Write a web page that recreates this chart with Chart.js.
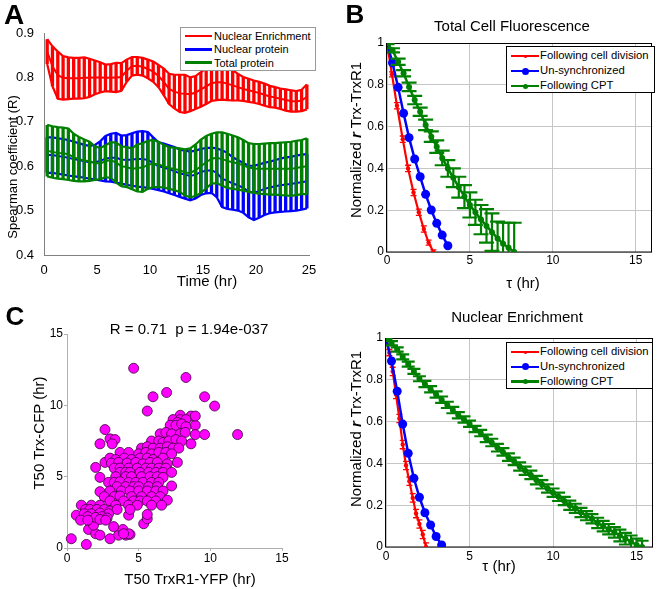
<!DOCTYPE html>
<html>
<head>
<meta charset="utf-8">
<title>Trx / TrxR1 correlation figure</title>
<script src="https://cdn.jsdelivr.net/npm/chart.js@4.4.1/dist/chart.umd.min.js"></script>
<style>
  body { margin: 0; background: #fff; }
  #fig { position: relative; width: 662px; height: 589px; overflow: hidden;
         font-family: Arial, "Liberation Sans", Helvetica, sans-serif; color: #000; }
  #fig canvas { position: absolute; }
  .t { position: absolute; white-space: nowrap; line-height: 1; transform: translate(-50%, -50%); }
  .t.rot { transform: translate(-50%, -50%) rotate(-90deg); }
  .letter { font-weight: bold; }
  .legend { position: absolute; box-sizing: border-box; background: #fff; border: 1px solid #000; }
  .lrow { position: absolute; left: 0; height: 0; }
  .lline { position: absolute; left: 4px; top: -1.25px; height: 2.5px; }
  .ldot { position: absolute; border-radius: 50%; }
  .ltext { position: absolute; top: 0; line-height: 1; transform: translateY(-50%); white-space: nowrap; }
</style>
</head>
<body>
<div id="fig">
  <canvas id="chartA" width="330" height="292" style="left:0;top:0"></canvas>
  <canvas id="chartB" width="332" height="292" style="left:330px;top:0"></canvas>
  <canvas id="chartC" width="330" height="297" style="left:0;top:292px"></canvas>
  <canvas id="chartD" width="332" height="297" style="left:330px;top:292px"></canvas>

  <div class="t letter" style="left:14px;top:15px;font-size:28px">A</div>
  <div class="t letter" style="left:355px;top:14px;font-size:26px">B</div>
  <div class="t letter" style="left:15px;top:316px;font-size:26px">C</div>

  <div class="t" style="left:207px;top:280px;font-size:15px">Time (hr)</div>
  <div class="t rot" style="left:12px;top:167px;font-size:13px">Spearman coefficient (R)</div>

  <div class="t" style="left:512px;top:25px;font-size:15px">Total Cell Fluorescence</div>
  <div class="t" style="left:523px;top:282px;font-size:15px">τ (hr)</div>
  <div class="t rot" style="left:355px;top:140px;font-size:15px">Normalized <b><i>r</i></b> Trx-TrxR1</div>

  <div class="t" style="left:189px;top:328px;font-size:15px">R = 0.71&nbsp; p = 1.94e-037</div>
  <div class="t" style="left:190px;top:578px;font-size:15px">T50 TrxR1-YFP (hr)</div>
  <div class="t rot" style="left:38px;top:433px;font-size:15px">T50 Trx-CFP (hr)</div>

  <div class="t" style="left:517px;top:316px;font-size:15px">Nuclear Enrichment</div>
  <div class="t" style="left:499px;top:565px;font-size:15px">τ (hr)</div>
  <div class="t rot" style="left:355px;top:429px;font-size:15px">Normalized <b><i>r</i></b> Trx-TrxR1</div>
</div>

<script>
// ---------- Panel A: Spearman coefficient vs time ----------
const timeA = [0.3, 0.8, 1.3, 1.8, 2.3, 2.8, 3.3, 3.8, 4.3, 4.8, 5.3, 5.8, 6.3, 6.8, 7.3, 7.8, 8.3, 8.8, 9.3, 9.8,
  10.3, 10.8, 11.3, 11.8, 12.3, 12.8, 13.3, 13.8, 14.3, 14.8, 15.3, 15.8, 16.3, 16.8, 17.3, 17.8, 18.3, 18.8, 19.3, 19.8,
  20.3, 20.8, 21.3, 21.8, 22.3, 22.8, 23.3, 23.8, 24.3, 24.8];

const nucEnrMean = [0.858, 0.825, 0.805, 0.799, 0.798, 0.798, 0.798, 0.799, 0.799, 0.800, 0.800, 0.799, 0.799, 0.800, 0.801,
  0.815, 0.825, 0.826, 0.824, 0.819, 0.813, 0.803, 0.790, 0.774, 0.768, 0.764, 0.763, 0.762, 0.766, 0.773, 0.780, 0.787,
  0.789, 0.789, 0.786, 0.782, 0.778, 0.774, 0.771, 0.768, 0.765, 0.761, 0.757, 0.755, 0.752, 0.749, 0.747, 0.746, 0.748, 0.756];
const nucEnrErr = [0.028, 0.045, 0.053, 0.049, 0.047, 0.046, 0.046, 0.046, 0.043, 0.038, 0.034, 0.030, 0.031, 0.033, 0.031,
  0.025, 0.021, 0.020, 0.020, 0.021, 0.023, 0.025, 0.030, 0.034, 0.038, 0.042, 0.043, 0.038, 0.037, 0.039, 0.040, 0.040,
  0.040, 0.039, 0.037, 0.034, 0.030, 0.027, 0.026, 0.025, 0.025, 0.025, 0.024, 0.023, 0.023, 0.024, 0.024, 0.023, 0.024, 0.028];

const nucProtMean = [0.625, 0.625, 0.623, 0.621, 0.619, 0.616, 0.614, 0.611, 0.609, 0.609, 0.612, 0.617, 0.619, 0.619, 0.615,
  0.614, 0.615, 0.616, 0.616, 0.614, 0.607, 0.600, 0.597, 0.593, 0.589, 0.584, 0.581, 0.578, 0.581, 0.587, 0.590, 0.591,
  0.585, 0.572, 0.567, 0.561, 0.557, 0.551, 0.543, 0.540, 0.544, 0.549, 0.552, 0.555, 0.557, 0.559, 0.560, 0.562, 0.564, 0.566];
const nucProtErr = [0.040, 0.040, 0.040, 0.040, 0.040, 0.039, 0.038, 0.037, 0.037, 0.039, 0.044, 0.051, 0.054, 0.056, 0.054,
  0.056, 0.059, 0.062, 0.063, 0.063, 0.058, 0.054, 0.054, 0.054, 0.054, 0.053, 0.054, 0.055, 0.054, 0.052, 0.051, 0.051,
  0.055, 0.064, 0.063, 0.059, 0.057, 0.056, 0.058, 0.061, 0.060, 0.059, 0.058, 0.059, 0.060, 0.061, 0.061, 0.062, 0.062, 0.061];

const totProtMean = [0.635, 0.632, 0.630, 0.629, 0.627, 0.620, 0.616, 0.613, 0.611, 0.607, 0.606, 0.611, 0.614, 0.608, 0.600,
  0.598, 0.594, 0.596, 0.597, 0.603, 0.606, 0.604, 0.600, 0.596, 0.594, 0.591, 0.586, 0.585, 0.591, 0.600, 0.609, 0.617,
  0.619, 0.616, 0.612, 0.609, 0.606, 0.602, 0.597, 0.595, 0.594, 0.594, 0.594, 0.594, 0.594, 0.594, 0.594, 0.596, 0.598, 0.600];
const totProtErr = [0.058, 0.058, 0.058, 0.058, 0.058, 0.053, 0.050, 0.047, 0.044, 0.038, 0.035, 0.036, 0.040, 0.045, 0.045,
  0.045, 0.046, 0.053, 0.055, 0.054, 0.053, 0.051, 0.048, 0.047, 0.048, 0.049, 0.052, 0.055, 0.058, 0.060, 0.059, 0.056,
  0.057, 0.060, 0.061, 0.060, 0.059, 0.057, 0.055, 0.055, 0.056, 0.057, 0.058, 0.058, 0.059, 0.060, 0.061, 0.061, 0.061, 0.063];

const xTicksA = [0, 5, 10, 15, 20, 25];
const yTicksA = [0.4, 0.5, 0.6, 0.7, 0.8, 0.9];

// ---------- Panel B: total cell fluorescence ----------
const tauDivB = [0, 0.3, 0.6, 0.95, 1.27, 1.6, 1.92, 2.22, 2.51, 2.8];
const divB = [1.0, 0.85, 0.70, 0.54, 0.40, 0.285, 0.19, 0.11, 0.045, 0.0];
const divErrB = [0, 0.012, 0.015, 0.015, 0.015, 0.015, 0.015, 0.015, 0.012, 0.01];

const tauUnsB = [0, 0.33, 0.67, 1, 1.33, 1.67, 2, 2.33, 2.67, 3, 3.33, 3.67];
const unsB = [1.0, 0.905, 0.788, 0.664, 0.547, 0.445, 0.36, 0.276, 0.201, 0.137, 0.081, 0.03];

const tauCptB = [0, 0.33, 0.67, 1, 1.33, 1.67, 2, 2.33, 2.67, 3, 3.33, 3.67, 4, 4.33, 4.67, 5, 5.33, 5.67, 6, 6.33, 6.67, 7, 7.33, 7.67];
const cptB = [1.0, 0.965, 0.91, 0.855, 0.79, 0.727, 0.671, 0.608, 0.552, 0.504, 0.45, 0.40, 0.355, 0.31, 0.265, 0.225,
  0.19, 0.155, 0.125, 0.095, 0.065, 0.04, 0.02, 0.0];
const cptErrB = [0.005, 0.01, 0.015, 0.015, 0.02, 0.02, 0.02, 0.025, 0.025, 0.03, 0.035, 0.04, 0.045, 0.05, 0.055, 0.06,
  0.06, 0.07, 0.08, 0.09, 0.08, 0.10, 0.12, 0.14];

// ---------- Panel D: nuclear enrichment ----------
const tauDivD = [0, 0.2, 0.4, 0.6, 0.8, 1.0, 1.2, 1.4, 1.6, 1.8, 2.0, 2.2, 2.4];
const divD = [1.0, 0.93, 0.84, 0.73, 0.615, 0.49, 0.39, 0.315, 0.235, 0.16, 0.11, 0.06, 0.0];
const divErrD = [0, 0.015, 0.02, 0.02, 0.02, 0.02, 0.02, 0.02, 0.02, 0.02, 0.02, 0.02, 0.02];

const tauUnsD = [0, 0.33, 0.67, 1, 1.33, 1.67, 2, 2.33, 2.67, 3, 3.33];
const unsD = [1.0, 0.89, 0.745, 0.588, 0.448, 0.329, 0.238, 0.164, 0.105, 0.05, 0.01];

const tauCptD = [0, 0.33, 0.67, 1, 1.33, 1.67, 2, 2.33, 2.67, 3, 3.33, 3.67, 4, 4.33, 4.67, 5, 5.33, 5.67, 6, 6.33, 6.67,
  7, 7.33, 7.67, 8, 8.33, 8.67, 9, 9.33, 9.67, 10, 10.33, 10.67, 11, 11.33, 11.67, 12, 12.33, 12.67, 13, 13.33, 13.67,
  14, 14.33, 14.67, 15, 15.33];
const cptD = [1.0, 0.975, 0.945, 0.91, 0.875, 0.84, 0.805, 0.78, 0.755, 0.73, 0.705, 0.68, 0.655, 0.63, 0.61, 0.59, 0.565,
  0.545, 0.52, 0.50, 0.475, 0.455, 0.43, 0.41, 0.385, 0.365, 0.345, 0.32, 0.30, 0.28, 0.26, 0.24, 0.22, 0.20, 0.185, 0.165,
  0.15, 0.135, 0.115, 0.10, 0.085, 0.07, 0.055, 0.04, 0.025, 0.01, 0.0];
const cptErrD = [0.005, 0.01, 0.01, 0.012, 0.012, 0.012, 0.012, 0.015, 0.015, 0.015, 0.015, 0.015, 0.015, 0.015, 0.015,
  0.015, 0.015, 0.015, 0.018, 0.018, 0.018, 0.018, 0.018, 0.018, 0.02, 0.02, 0.02, 0.02, 0.02, 0.02, 0.02, 0.02, 0.02,
  0.022, 0.022, 0.022, 0.022, 0.022, 0.025, 0.025, 0.025, 0.025, 0.028, 0.028, 0.03, 0.03, 0.03];

const xTicksBD = [0, 5, 10, 15];
const yTicksBD = [0, 0.2, 0.4, 0.6, 0.8, 1];

// ---------- Panel C: T50 scatter ----------
const t50Yfp = [4.65, 8.3, 6.95, 6.0, 5.6, 9.6, 10.3, 11.9, 8.95, 8.95, 9.6, 8.65, 8.95, 8.65, 7.9, 0.3, 1.35, 3.0, 2.65, 2.3,
  3.0, 3.35, 3.15, 2.0, 2.3, 2.3, 1.0, 0.65, 1.5, 2.0, 2.3, 3.6, 4.1, 4.4, 3.9, 3.25, 2.65, 1.85, 5.35, 5.6, 5.6, 7.3, 4.3, 2.65,
  7.4, 7.9, 8.3, 7.7, 7.2, 7.6, 8.0, 8.3, 6.5, 6.9, 7.3, 7.9, 8.25, 5.9, 6.4, 6.7, 7.1, 7.6, 8.0,
  5.2, 5.6, 6.0, 6.5, 7.0, 7.4, 7.8, 3.7, 4.3, 5.0, 5.5, 5.9, 6.4, 6.9, 7.3,
  3.0, 3.4, 4.0, 4.5, 5.1, 5.6, 6.0, 6.7, 7.7, 3.1, 3.6, 4.2, 4.8, 5.3, 5.8, 6.3, 7.0,
  3.3, 3.7, 4.3, 4.9, 5.5, 5.9, 6.4, 6.9, 3.7, 4.1, 4.4, 5.1, 5.7, 6.2, 6.7, 7.3,
  3.4, 4.1, 4.5, 5.2, 5.8, 6.3, 6.7, 2.9, 3.3, 3.7, 4.3, 4.8, 5.3, 5.9, 6.4,
  3.5, 4.1, 4.65, 5.0, 5.7, 6.3, 3.0, 3.8, 4.4, 5.0, 5.6, 6.2, 6.7,
  2.6, 3.3, 3.7, 4.5, 5.2, 5.9, 6.5, 3.0, 3.95, 4.65, 5.1, 5.6, 6.2, 7.0,
  1.7, 2.3, 3.4, 4.3, 4.9, 5.9, 6.6, 1.3, 1.6, 2.1, 2.6, 3.0, 3.5, 4.4,
  1.2, 1.7, 2.3, 2.9, 1.45, 2.0, 2.45, 2.8, 0.95, 1.45, 2.3, 2.7, 4.3, 3.95];
const t50Cfp = [12.6, 11.95, 10.9, 10.6, 9.6, 10.6, 9.95, 7.95, 8.6, 7.95, 7.95, 9.25, 9.25, 7.3, 9.3, 0.65, 0.25, 0.65, 8.3, 7.3,
  7.65, 7.6, 7.3, 5.65, 4.95, 3.95, 3.0, 2.3, 1.3, 1.0, 0.9, 0.9, 0.9, 0.95, 1.3, 1.5, 2.3, 1.6, 1.7, 2.05, 2.35, 4.35, 2.3, 6.0,
  9.0, 9.0, 9.0, 8.8, 8.6, 8.6, 8.7, 8.5, 8.0, 8.1, 8.0, 8.0, 8.1, 7.5, 7.5, 7.4, 7.5, 7.6, 7.5,
  7.0, 7.1, 7.0, 7.0, 7.1, 7.0, 7.0, 6.7, 6.7, 6.6, 6.7, 6.6, 6.7, 6.7, 6.6,
  6.3, 6.2, 6.3, 6.2, 6.3, 6.3, 6.2, 6.3, 6.0, 5.95, 6.0, 5.95, 6.0, 5.9, 6.0, 6.0, 5.9,
  5.6, 5.6, 5.6, 5.6, 5.6, 5.6, 5.6, 5.6, 5.3, 5.3, 5.3, 5.3, 5.3, 5.3, 5.3, 5.3,
  5.0, 5.0, 5.0, 5.0, 5.0, 5.0, 4.95, 4.6, 4.6, 4.65, 4.6, 4.6, 4.6, 4.6, 4.6,
  4.3, 4.3, 4.3, 4.3, 4.3, 4.3, 4.0, 4.0, 4.0, 4.0, 4.0, 4.0, 4.0,
  3.6, 3.6, 3.65, 3.6, 3.6, 3.6, 3.6, 3.3, 3.3, 3.3, 3.3, 3.3, 3.3, 3.35,
  3.0, 3.0, 3.0, 3.0, 3.0, 3.0, 3.0, 2.7, 2.7, 2.7, 2.7, 2.6, 2.7, 2.7,
  2.4, 2.4, 2.45, 2.4, 2.2, 2.15, 2.2, 2.1, 1.95, 1.95, 2.0, 1.95, 1.0, 1.0];
const ticksC = [0, 5, 10, 15];

const RED = '#ff0000';
const BLUE = '#0000ff';
const GREEN = '#008000';

Chart.defaults.font.family = 'Arial, "Liberation Sans", Helvetica, sans-serif';
Chart.defaults.font.size = 12;
Chart.defaults.color = '#000';
Chart.defaults.animation = false;
Chart.defaults.responsive = false;
Chart.defaults.devicePixelRatio = 1;
Chart.defaults.events = [];
Chart.defaults.plugins.legend.display = false;
Chart.defaults.plugins.tooltip.enabled = false;

// helpers
function xy(xs, ys) {
  return xs.map((x, i) => ({ x: x, y: ys[i] }));
}
function shifted(xs, ys, es, sign) {
  return xs.map((x, i) => ({ x: x, y: ys[i] + sign * es[i] }));
}
// vertical error bar stems, one line dataset broken by nulls
function stemData(xs, ys, es) {
  const out = [];
  xs.forEach((x, i) => {
    out.push({ x: x, y: ys[i] - es[i] }, { x: x, y: ys[i] + es[i] }, { x: x, y: null });
  });
  return out;
}
function fixedTicks(values) {
  return function (scale) { scale.ticks = values.map((v) => ({ value: v })); };
}
function fixedWidth(w) {
  return function (scale) { scale.width = w; };
}
function fixedHeight(h) {
  return function (scale) { scale.height = h; };
}
const tickText = (v) => String(+v.toFixed(2));

// MATLAB style box around the plot area
const framePlugin = {
  id: 'frame',
  beforeDatasetsDraw(chart) {
    const a = chart.chartArea;
    const ctx = chart.ctx;
    ctx.save();
    ctx.strokeStyle = '#000';
    ctx.lineWidth = 1;
    ctx.strokeRect(Math.round(a.left) - 0.5, Math.round(a.top) + 0.5,
      Math.round(a.right - a.left), Math.round(a.bottom - a.top) - 0.5);
    ctx.restore();
  },
};

// ----- Panel A: band of error bars per series -----
function bandSeries(label, xs, m, e, color, order) {
  return [
    { label: label, data: xy(xs, m), borderColor: color, borderWidth: 2, order: order },
    { data: stemData(xs, m, e), borderColor: color, borderWidth: 3.3, borderCapStyle: 'butt', spanGaps: false, order: order },
    { data: shifted(xs, m, e, 1), borderColor: color, borderWidth: 2.2, order: order },
    { data: shifted(xs, m, e, -1), borderColor: color, borderWidth: 2.2, order: order },
  ];
}

new Chart(document.getElementById('chartA'), {
  type: 'line',
  data: {
    datasets: [
      ...bandSeries('Total protein', timeA, totProtMean, totProtErr, GREEN, 1),
      ...bandSeries('Nuclear protein', timeA, nucProtMean, nucProtErr, BLUE, 2),
      ...bandSeries('Nuclear Enrichment', timeA, nucEnrMean, nucEnrErr, RED, 3),
    ],
  },
  options: {
    layout: { padding: { left: 0, top: 33, right: 21, bottom: 0 } },
    elements: { point: { radius: 0 }, line: { tension: 0 } },
    scales: {
      x: {
        type: 'linear', min: 0, max: 25, offset: false,
        afterBuildTicks: fixedTicks(xTicksA), afterFit: fixedHeight(37),
        grid: { display: false }, border: { color: '#808080' },
        ticks: { padding: 0, maxRotation: 0, font: { size: 13 }, callback: tickText },
      },
      y: {
        type: 'linear', min: 0.4, max: 0.9,
        afterBuildTicks: fixedTicks(yTicksA), afterFit: fixedWidth(44),
        grid: { display: false }, border: { color: '#808080' },
        ticks: { padding: 2, font: { size: 13 }, callback: (v) => v.toFixed(1) },
      },
    },
  },
});

// ----- Panels B and D: decay curves with error bars -----
function markerLine(label, xs, ys, color, width, radius, order) {
  return {
    label: label, data: xy(xs, ys), borderColor: color, borderWidth: width,
    pointRadius: radius, pointBackgroundColor: color, pointBorderColor: color, pointBorderWidth: 0, order: order,
  };
}
function errorBars(xs, ys, es, color, stemW, capR, order) {
  const cap = (sign) => ({
    data: shifted(xs, ys, es, sign), showLine: false, pointStyle: 'line', pointRadius: capR,
    pointBorderWidth: stemW, pointBorderColor: color, clip: 0, order: order,
  });
  return [
    { data: stemData(xs, ys, es), borderColor: color, borderWidth: stemW, spanGaps: false, order: order },
    cap(1),
    cap(-1),
  ];
}
function decayOptions(pad, yWidth, xHeight, xPad) {
  return {
    layout: { padding: pad },
    elements: { point: { radius: 0 }, line: { tension: 0 } },
    scales: {
      x: {
        type: 'linear', min: 0, max: 16, offset: false,
        afterBuildTicks: fixedTicks(xTicksBD), afterFit: fixedHeight(xHeight),
        grid: { color: '#c6c6c6', drawTicks: false }, border: { display: false },
        ticks: { padding: xPad, maxRotation: 0, callback: tickText },
      },
      y: {
        type: 'linear', min: 0, max: 1,
        afterBuildTicks: fixedTicks(yTicksBD), afterFit: fixedWidth(yWidth),
        grid: { color: '#c6c6c6', drawTicks: false }, border: { display: false },
        ticks: { padding: 3, callback: tickText },
      },
    },
  };
}

new Chart(document.getElementById('chartB'), {
  type: 'line',
  data: {
    datasets: [
      markerLine('Following CPT', tauCptB, cptB, GREEN, 2.5, 3, 1),
      ...errorBars(tauCptB, cptB, cptErrB, GREEN, 2.2, 7.5, 1),
      markerLine('Un-synchronized', tauUnsB, unsB, BLUE, 2.5, 4.5, 2),
      markerLine('Following cell division', tauDivB, divB, RED, 2.2, 2.2, 3),
      ...errorBars(tauDivB, divB, divErrB, RED, 1.3, 3, 3),
    ],
  },
  options: decayOptions({ left: 0, top: 43, right: 4, bottom: 0 }, 57, 40, 1),
  plugins: [framePlugin],
});

new Chart(document.getElementById('chartD'), {
  type: 'line',
  data: {
    datasets: [
      markerLine('Following CPT', tauCptD, cptD, GREEN, 2.5, 3, 1),
      ...errorBars(tauCptD, cptD, cptErrD, GREEN, 2.2, 6.5, 1),
      markerLine('Un-synchronized', tauUnsD, unsD, BLUE, 2.5, 4.5, 2),
      markerLine('Following cell division', tauDivD, divD, RED, 2.2, 2.2, 3),
      ...errorBars(tauDivD, divD, divErrD, RED, 1.3, 3, 3),
    ],
  },
  options: decayOptions({ left: 0, top: 46, right: 4, bottom: 0 }, 56, 42, 2.5),
  plugins: [framePlugin],
});

// ----- Panel C: scatter of T50 values -----
new Chart(document.getElementById('chartC'), {
  type: 'scatter',
  data: {
    datasets: [{
      label: 'T50',
      data: xy(t50Yfp, t50Cfp),
      pointRadius: 5,
      backgroundColor: '#ff00ff',
      borderColor: '#3d003d',
      borderWidth: 0.8,
      clip: false,
    }],
  },
  options: {
    layout: { padding: { left: 0, top: 42, right: 48, bottom: 0 } },
    scales: {
      x: {
        type: 'linear', min: 0, max: 15,
        afterBuildTicks: fixedTicks(ticksC), afterFit: fixedHeight(41),
        grid: { display: true, drawOnChartArea: false, tickLength: 3, color: '#b0b0b0' },
        border: { color: '#b0b0b0' },
        ticks: { padding: 0, maxRotation: 0, callback: tickText },
      },
      y: {
        type: 'linear', min: 0, max: 15,
        afterBuildTicks: fixedTicks(ticksC), afterFit: fixedWidth(67),
        grid: { display: true, drawOnChartArea: false, tickLength: 3, color: '#b0b0b0' },
        border: { color: '#b0b0b0' },
        ticks: { padding: 1, callback: tickText },
      },
    },
  },
});

// ----- legends (MATLAB style boxes inside the axes) -----
function addLegend(box, items) {
  const el = document.createElement('div');
  el.className = 'legend';
  Object.assign(el.style, {
    left: box.left + 'px', top: box.top + 'px', width: box.width + 'px', height: box.height + 'px',
    borderColor: box.border,
  });
  items.forEach((it, i) => {
    const row = document.createElement('div');
    row.className = 'lrow';
    row.style.top = (box.firstRow + i * box.rowGap) + 'px';
    let html = '<span class="lline" style="background:' + it.color + ';width:' + box.lineLen + 'px"></span>';
    if (it.dot) {
      const c = 4 + box.lineLen / 2;
      html += '<span class="ldot" style="background:' + it.color + ';width:' + 2 * it.dot + 'px;height:' + 2 * it.dot +
        'px;left:' + (c - it.dot) + 'px;top:' + (-it.dot) + 'px"></span>';
    }
    html += '<span class="ltext" style="left:' + box.textLeft + 'px;font-size:' + box.fontSize + 'px">' + it.label + '</span>';
    row.innerHTML = html;
    el.appendChild(row);
  });
  document.getElementById('fig').appendChild(el);
}

const legendA = ['Nuclear Enrichment', 'Nuclear protein', 'Total protein'];
const legendBD = ['Following cell division', 'Un-synchronized', 'Following CPT'];

addLegend({ left: 180, top: 27, width: 136, height: 44, border: '#999', firstRow: 8, rowGap: 13.3,
  lineLen: 27, textLeft: 33, fontSize: 11 },
  [{ label: legendA[0], color: RED }, { label: legendA[1], color: BLUE }, { label: legendA[2], color: GREEN }]);

addLegend({ left: 506, top: 46, width: 149, height: 47, border: '#000', firstRow: 9, rowGap: 15,
  lineLen: 28, textLeft: 33, fontSize: 11.3 },
  [{ label: legendBD[0], color: RED, dot: 1.5 }, { label: legendBD[1], color: BLUE, dot: 3.5 },
    { label: legendBD[2], color: GREEN, dot: 2.5 }]);

addLegend({ left: 506, top: 342, width: 147, height: 47, border: '#000', firstRow: 9, rowGap: 14.8,
  lineLen: 28, textLeft: 33, fontSize: 11.3 },
  [{ label: legendBD[0], color: RED, dot: 1.5 }, { label: legendBD[1], color: BLUE, dot: 3.5 },
    { label: legendBD[2], color: GREEN, dot: 2.5 }]);
</script>
</body>
</html>
